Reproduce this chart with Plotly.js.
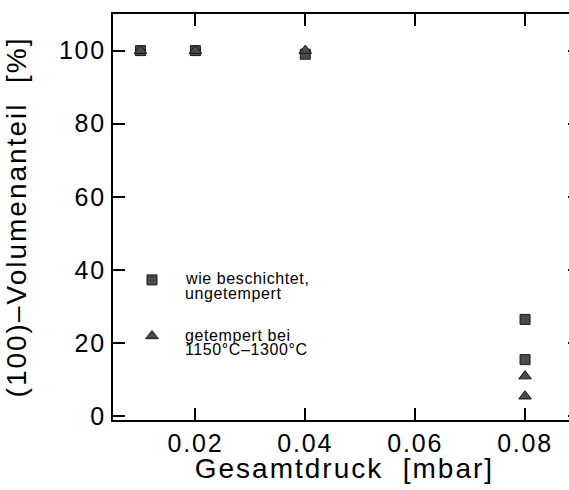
<!DOCTYPE html>
<html>
<head>
<meta charset="utf-8">
<script src="https://cdn.plot.ly/plotly-3.0.1.min.js"></script>
<style>
  html, body { margin: 0; padding: 0; overflow: hidden; background: #fff; }
  #chart { width: 580px; height: 490px; }
  .ytitle { letter-spacing: 2px; }
  .xtick text, .ytick text { letter-spacing: 1.8px; }
  .annotation-text { letter-spacing: 0.6px; }
  g.annotation[data-index="4"] .annotation-text { letter-spacing: 2px; }
</style>
</head>
<body>
<div id="chart"></div>
<script>
// Total pressure during deposition [mbar]
const pressure = [0.01, 0.02, 0.04, 0.08, 0.08];
// (100) volume fraction [%], as deposited (not annealed)
const asCoated = [100, 100, 99, 26.5, 15.5];
// (100) volume fraction [%], annealed at 1150–1300 °C
const annealed = [100, 100, 100, 11, 5.5];

const xTickVals = [0.02, 0.04, 0.06, 0.08];
const xTickText = ['0.02', '0.04', '0.06', '0.08'];
const yTickVals = [0, 20, 40, 60, 80, 100];

const xTitle = 'Gesamtdruck\u00a0\u00a0[mbar]';
const yTitle = '(100)–Volumenanteil\u00a0\u00a0[%]';
const labelAsCoated = ['wie beschichtet,', 'ungetempert'];
const labelAnnealed = ['getempert bei', '1150°C–1300°C'];

const ink = '#000';
const markerFill = '#4a4a4a';
const markerEdge = '#1a1a1a';

const traces = [
  {
    x: pressure, y: asCoated, type: 'scatter', mode: 'markers',
    name: '\u00a0', legend: 'legend', showlegend: true,
    marker: { symbol: 'square', size: 10, color: markerFill, line: { color: markerEdge, width: 1 } },
    hoverinfo: 'x+y'
  },
  {
    x: pressure, y: annealed, type: 'scatter', mode: 'markers',
    name: '\u00a0', legend: 'legend2', showlegend: true,
    marker: { symbol: 'triangle-up', size: 11, color: markerFill, line: { color: markerEdge, width: 1 } },
    hoverinfo: 'x+y'
  }
];

const W = 580, H = 490;
const mL = 113, mR = 0, mT = 14, mB = 70;
const plotW = W - mL - mR, plotH = H - mT - mB;
const px = v => (v - mL) / plotW;           // page x -> paper x
const py = v => (H - mB - v) / plotH;       // page y -> paper y

const legendText = { family: 'Liberation Sans, Arial, sans-serif', size: 16, color: ink };

function lineNote(text, xPage, yPage) {
  return {
    text: text, xref: 'paper', yref: 'paper', x: px(xPage), y: py(yPage),
    xanchor: 'left', yanchor: 'middle', showarrow: false, font: legendText
  };
}

const layout = {
  width: W, height: H,
  margin: { l: mL, r: mR, t: mT, b: mB, pad: 0 },
  paper_bgcolor: '#fff', plot_bgcolor: '#fff',
  font: { family: 'Liberation Sans, Arial, sans-serif', color: ink },
  xaxis: {
    range: [0.005, 0.09],
    tickvals: xTickVals, ticktext: xTickText,
    ticks: 'inside', ticklen: 12, tickwidth: 2, tickcolor: ink,
    showline: true, linewidth: 2, linecolor: ink, mirror: 'ticks',
    showgrid: false, zeroline: false,
    tickfont: { size: 25, color: ink }
  },
  yaxis: {
    range: [-1, 110],
    tickvals: yTickVals,
    ticks: 'inside', ticklen: 12, tickwidth: 2, tickcolor: ink,
    showline: true, linewidth: 2, linecolor: ink, mirror: 'ticks',
    showgrid: false, zeroline: false,
    tickfont: { size: 25, color: ink },
    title: { text: yTitle, font: { size: 28, color: ink }, standoff: 24 }
  },
  legend: {
    x: px(132), y: py(263), xanchor: 'left', yanchor: 'top',
    bgcolor: 'rgba(0,0,0,0)', borderwidth: 0, font: legendText
  },
  legend2: {
    x: px(132), y: py(319), xanchor: 'left', yanchor: 'top',
    bgcolor: 'rgba(0,0,0,0)', borderwidth: 0, font: legendText
  },
  annotations: [
    lineNote(labelAsCoated[0], 183, 279),
    lineNote(labelAsCoated[1], 183, 293),
    lineNote(labelAnnealed[0], 183, 335),
    lineNote(labelAnnealed[1], 183, 349),
    {
      // x-axis title, centred under the visible part of the frame
      text: xTitle, xref: 'paper', yref: 'paper', x: px(344), y: py(469),
      xanchor: 'center', yanchor: 'middle', showarrow: false,
      font: { size: 28, color: ink }
    }
  ],
  showlegend: true
};

Plotly.newPlot('chart', traces, layout, { displayModeBar: false, staticPlot: true });
</script>
</body>
</html>
